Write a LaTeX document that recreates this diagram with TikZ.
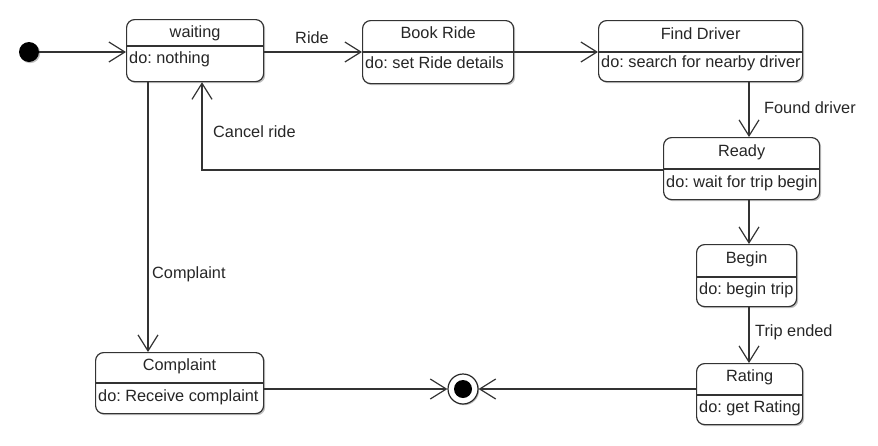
\documentclass[tikz,border=0pt]{standalone}
\usepackage{fontspec}
\setmainfont{Liberation Sans}
\usetikzlibrary{arrows.meta,shadows}
\frenchspacing
\begin{document}
\begin{tikzpicture}[x=1pt,y=-1pt,
  every node/.style={font=\fontsize{16.3}{19}\selectfont\frenchspacing, text=black!85},
  statebox/.style={draw=black!80, line width=1.2pt, rounded corners=8pt, fill=white,
    anchor=north west, inner sep=0pt,
    drop shadow={shadow xshift=1.6pt, shadow yshift=-1.6pt, opacity=0.25, fill=black}},
  title/.style={inner sep=0pt, anchor=center},
  body/.style={inner sep=0pt, anchor=west},
  lbl/.style={inner sep=0pt},
  divline/.style={draw=black!80, line width=1.2pt},
  arr/.style={draw=black!80, line width=1.2pt, -{Straight Barb[length=16pt,width=20pt,line width=1.2pt]}},
]
\useasboundingbox (0,0) rectangle (878,445);

% states
\node[statebox, minimum width=137pt, minimum height=62pt] (waiting) at (126,19) {};
\node[statebox, minimum width=151pt, minimum height=63pt] (bookride) at (362,20) {};
\node[statebox, minimum width=204pt, minimum height=61pt] (finddriver) at (598,20) {};
\node[statebox, minimum width=156pt, minimum height=62pt] (ready) at (663,137) {};
\node[statebox, minimum width=100pt, minimum height=62pt] (begin) at (696,244) {};
\node[statebox, minimum width=106pt, minimum height=61pt] (rating) at (696,363) {};
\node[statebox, minimum width=168pt, minimum height=61pt] (complaint) at (95,352) {};

% dividers
\draw[divline] (waiting.west |- 0,46) -- (waiting.east |- 0,46);
\draw[divline] (bookride.west |- 0,52) -- (bookride.east |- 0,52);
\draw[divline] (finddriver.west |- 0,52) -- (finddriver.east |- 0,52);
\draw[divline] (ready.west |- 0,169) -- (ready.east |- 0,169);
\draw[divline] (begin.west |- 0,277) -- (begin.east |- 0,277);
\draw[divline] (rating.west |- 0,395) -- (rating.east |- 0,395);
\draw[divline] (complaint.west |- 0,383) -- (complaint.east |- 0,383);

% titles and bodies
\node[title] (waitingT) at (waiting.center |- 0,33) {waiting};
\node[body] (waitingB) at (129,59) {do: nothing};
\node[title] (bookrideT) at (bookride.center |- 0,33) {Book Ride};
\node[body] (bookrideB) at (365,63) {do: set Ride details};
\node[title] (finddriverT) at (finddriver.center |- 0,34) {Find Driver};
\node[body] (finddriverB) at (601,63) {do: search for nearby driver};
\node[title] (readyT) at (ready.center |- 0,152) {Ready};
\node[body] (readyB) at (666,183) {do: wait for trip begin};
\node[title] (beginT) at (begin.center |- 0,259) {Begin};
\node[body] (beginB) at (699,290) {do: begin trip};
\node[title] (ratingT) at (rating.center |- 0,377) {Rating};
\node[body] (ratingB) at (699,408) {do: get Rating};
\node[title] (complaintT) at (complaint.center |- 0,366) {Complaint};
\node[body] (complaintB) at (98,397) {do: Receive complaint};

% initial and final states
\node[circle, fill=black, minimum size=20pt, inner sep=0pt,
  drop shadow={shadow xshift=1.2pt, shadow yshift=-1.2pt, opacity=0.25, fill=black}] (init) at (29,52) {};
\node[circle, draw=black!85, line width=1.2pt, fill=white, minimum size=30pt, inner sep=0pt,
  drop shadow={shadow xshift=1.2pt, shadow yshift=-1.2pt, opacity=0.25, fill=black}] (final) at (463,389) {};
\node[circle, fill=black, minimum size=18pt, inner sep=0pt] (finaldot) at (final.center) {};

% helper coordinates
\coordinate (xcancel) at (202,170);
\coordinate (xcompl) at (148,0);
\coordinate (xright) at (749,0);
\coordinate (yrow) at (0,52);

% transitions
\draw[arr] (init) -- (waiting.west |- init);
\draw[arr] (waiting.east |- yrow) -- (bookride.west |- yrow);
\draw[arr] (bookride.east |- yrow) -- (finddriver.west |- yrow);
\draw[arr] (finddriver.south -| xright) -- (ready.north -| xright);
\draw[arr] (ready.west |- xcancel) -- (xcancel) -- (xcancel |- waiting.south);
\draw[arr] (waiting.south -| xcompl) -- (complaint.north -| xcompl);
\draw[arr] (ready.south -| xright) -- (begin.north -| xright);
\draw[arr] (begin.south -| xright) -- (rating.north -| xright);
\draw[arr] (complaint.east |- final) -- (final);
\draw[arr] (rating.west |- final) -- (final);

% labels
\node[lbl] (lride) at (312,38) {Ride};
\node[lbl, anchor=west] (lfound) at (764,108) {Found driver};
\node[lbl, anchor=west] (lcancel) at (213,132) {Cancel ride};
\node[lbl, anchor=west] (lcompl) at (152,274) {Complaint};
\node[lbl, anchor=west] (ltrip) at (755,332) {Trip ended};
\end{tikzpicture}
\end{document}
